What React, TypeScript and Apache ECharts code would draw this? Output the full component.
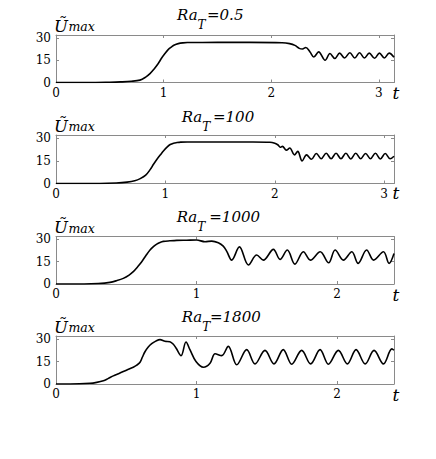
import React, { useEffect, useRef } from "react";
import * as echarts from "echarts";

// ---- Data ----
const xTicksLong = [0, 1, 2, 3];
const xTicksShort = [0, 1, 2];
const yTicks = [0, 15, 30];
const titles = ["=0.5", "=100", "=1000", "=1800"];
const xMax = [3.14, 3.09, 2.405, 2.405];

const t05 = [0, 0.3, 0.5, 0.6, 0.7, 0.78, 0.83, 0.873, 0.91, 0.95, 0.98, 1.012, 1.04, 1.074, 1.1, 1.136, 1.18, 1.22, 1.5, 1.8, 2.1, 2.17, 2.22, 2.26, 2.29, 2.32, 2.36, 2.395, 2.44, 2.5, 2.545, 2.59, 2.635, 2.68, 2.73, 2.775, 2.82, 2.865, 2.91, 2.96, 3.005, 3.05, 3.095, 3.14];
const u05 = [0, 0, 0.2, 0.4, 0.8, 1.6, 3.5, 6, 9, 12.8, 16.3, 19.5, 22, 24, 25.3, 26.2, 26.7, 26.9, 27, 27, 26.8, 26.2, 25, 23, 22.6, 23.6, 20.6, 17.2, 20.6, 15, 19.5, 16.2, 19.8, 16.5, 20, 16.5, 20, 16.5, 19.8, 16.3, 19.8, 16.5, 19.8, 17];

const t100 = [0, 0.4, 0.55, 0.65, 0.72, 0.77, 0.82, 0.862, 0.89, 0.923, 0.955, 0.984, 1.015, 1.044, 1.075, 1.105, 1.14, 1.2, 1.5, 1.8, 1.956, 2.0, 2.03, 2.05, 2.07, 2.106, 2.137, 2.18, 2.21, 2.25, 2.29, 2.335, 2.38, 2.425, 2.47, 2.515, 2.56, 2.605, 2.65, 2.695, 2.74, 2.785, 2.83, 2.875, 2.92, 2.965, 3.01, 3.055, 3.09];
const u100 = [0, 0, 0.3, 0.9, 1.8, 3.2, 5.5, 9.3, 12.5, 16, 19, 21.6, 24, 25.7, 26.6, 27, 27.3, 27.4, 27.4, 27.4, 27.2, 26.5, 25.4, 23.9, 24.5, 22, 23.4, 18.9, 21.2, 14.9, 18.9, 16, 19.8, 16.3, 20, 16.3, 20, 16.3, 20, 16.2, 20, 16.3, 19.8, 16.3, 20, 16.2, 19.8, 16.3, 18];

const t1000 = [0, 0.2, 0.3, 0.384, 0.43, 0.479, 0.52, 0.55, 0.58, 0.61, 0.64, 0.669, 0.695, 0.717, 0.74, 0.764, 0.81, 0.859, 0.93, 1.0, 1.06, 1.108, 1.155, 1.19, 1.215, 1.25, 1.305, 1.369, 1.428, 1.475, 1.547, 1.594, 1.646, 1.7, 1.76, 1.81, 1.88, 1.94, 1.986, 2.045, 2.105, 2.15, 2.21, 2.26, 2.33, 2.37, 2.405];
const u1000 = [0, 0, 0.3, 1.1, 2.2, 3.8, 6, 8.3, 11.5, 15, 19.2, 22.9, 25.3, 26.9, 28, 28.7, 29.1, 29.4, 29.5, 29.6, 28.5, 28.9, 27.8, 25.5, 22, 16.1, 25, 12.8, 19.5, 16.1, 23.3, 16.6, 22.9, 13.4, 21.7, 16.1, 21.7, 14.3, 22.9, 16.1, 21.7, 13.9, 22.9, 16.1, 21.7, 13.9, 20.6];

const t1800 = [0, 0.1, 0.242, 0.29, 0.337, 0.37, 0.408, 0.445, 0.479, 0.515, 0.55, 0.575, 0.598, 0.615, 0.633, 0.655, 0.681, 0.71, 0.74, 0.776, 0.81, 0.835, 0.854, 0.89, 0.925, 0.953, 0.996, 1.049, 1.096, 1.132, 1.179, 1.226, 1.286, 1.357, 1.416, 1.487, 1.551, 1.617, 1.677, 1.748, 1.812, 1.879, 1.938, 2.009, 2.073, 2.135, 2.2, 2.263, 2.33, 2.39, 2.405];
const u1800 = [0, 0, 0.45, 1.1, 2.2, 3.6, 5.4, 6.9, 8.3, 9.8, 11.2, 12.6, 14.5, 18, 21.5, 24.5, 26.9, 28.6, 29.6, 28.5, 28.2, 26.5, 24, 18.9, 28, 22.9, 15, 11.2, 13.9, 20.2, 18.9, 25.1, 12.8, 22.9, 13.4, 22.4, 13.4, 22.9, 13.2, 22.4, 13.4, 22.9, 13.2, 22.4, 13.4, 22.9, 13.4, 22.4, 13.4, 23.4, 22.5];

const seriesT = [t05, t100, t1000, t1800];
const seriesU = [u05, u100, u1000, u1800];

// ---- Layout ----
const SERIF = "DejaVu Serif";
const GRID_LEFT = 56;
const GRID_WIDTH = 338;
const gridTops = [35, 135, 236.5, 336];
const gridHeights = [47.5, 48.5, 47.5, 48];
const raX = [177, 181.7, 176.7, 181.7];
const raBase = [20.7, 122.7, 222.7, 322.7];
const eqX = [207, 213, 209.3, 210];
const tLabelY = [93.5, 193.5, 296, 396];
const AXIS_COLOR = "#8a8a8a";

function txt(text: string, x: number, baseline: number, size: number, align = "left") {
  return {
    type: "text",
    style: {
      text,
      x,
      y: baseline - 0.35 * size,
      fontFamily: SERIF,
      fontStyle: "italic",
      fontSize: size,
      fill: "#000",
      textAlign: align,
      align,
      textVerticalAlign: "middle",
      verticalAlign: "middle",
    },
  };
}

export default function App() {
  const ref = useRef<HTMLDivElement>(null);
  useEffect(() => {
    document.body.style.margin = "0";
    if (!ref.current) return;
    const chart = echarts.init(ref.current, null, { renderer: "svg" });

    const grids: any[] = [];
    const xAxes: any[] = [];
    const yAxes: any[] = [];
    const series: any[] = [];
    const graphics: any[] = [];

    for (let i = 0; i < 4; i++) {
      grids.push({ left: GRID_LEFT, width: GRID_WIDTH, top: gridTops[i], height: gridHeights[i] });
      const xt = i < 2 ? xTicksLong : xTicksShort;
      const axisLine = { show: true, onZero: false, lineStyle: { color: AXIS_COLOR, width: 1 } };
      const tick = (vals: number[]) => ({ show: true, inside: true, length: 3, customValues: vals, lineStyle: { color: AXIS_COLOR } });
      xAxes.push({
        gridIndex: i, type: "value", min: 0, max: xMax[i], position: "bottom",
        axisLine, axisTick: tick(xt), splitLine: { show: false },
        axisLabel: { customValues: xt, margin: 4, color: "#000", fontFamily: SERIF, fontSize: 12 },
      });
      xAxes.push({
        gridIndex: i, type: "value", min: 0, max: xMax[i], position: "top",
        axisLine, axisTick: tick(xt), splitLine: { show: false }, axisLabel: { show: false },
      });
      yAxes.push({
        gridIndex: i, type: "value", min: 0, max: 32, position: "left",
        axisLine, axisTick: tick(yTicks), splitLine: { show: false },
        axisLabel: { customValues: yTicks, margin: 5, color: "#000", fontFamily: SERIF, fontSize: 12 },
      });
      yAxes.push({
        gridIndex: i, type: "value", min: 0, max: 32, position: "right",
        axisLine, axisTick: tick(yTicks), splitLine: { show: false }, axisLabel: { show: false },
      });
      series.push({
        type: "line", xAxisIndex: 2 * i, yAxisIndex: 2 * i,
        data: seriesT[i].map((t, k) => [t, seriesU[i][k]]),
        showSymbol: false, smooth: 0.35, clip: true,
        lineStyle: { color: "#000", width: 1.6 },
      });

      const top = gridTops[i];
      graphics.push(txt("Ũ", 54, top - 3, 16.5));
      graphics.push(txt("max", 68.5, top - 4, 12.5));
      graphics.push(txt("Ra", raX[i], raBase[i], 15));
      graphics.push(txt("T", raX[i] + 20.5, raBase[i] + 8.5, 12));
      graphics.push(txt(titles[i], eqX[i], raBase[i], 15));
      graphics.push(txt("t", 396, tLabelY[i] + 5, 17, "center"));
    }

    chart.setOption({
      animation: false,
      backgroundColor: "#fff",
      textStyle: { fontFamily: SERIF },
      grid: grids,
      xAxis: xAxes,
      yAxis: yAxes,
      series,
      graphic: graphics,
    });
    return () => chart.dispose();
  }, []);
  return <div ref={ref} style={{ width: 436, height: 459, fontFamily: SERIF }} />;
}
